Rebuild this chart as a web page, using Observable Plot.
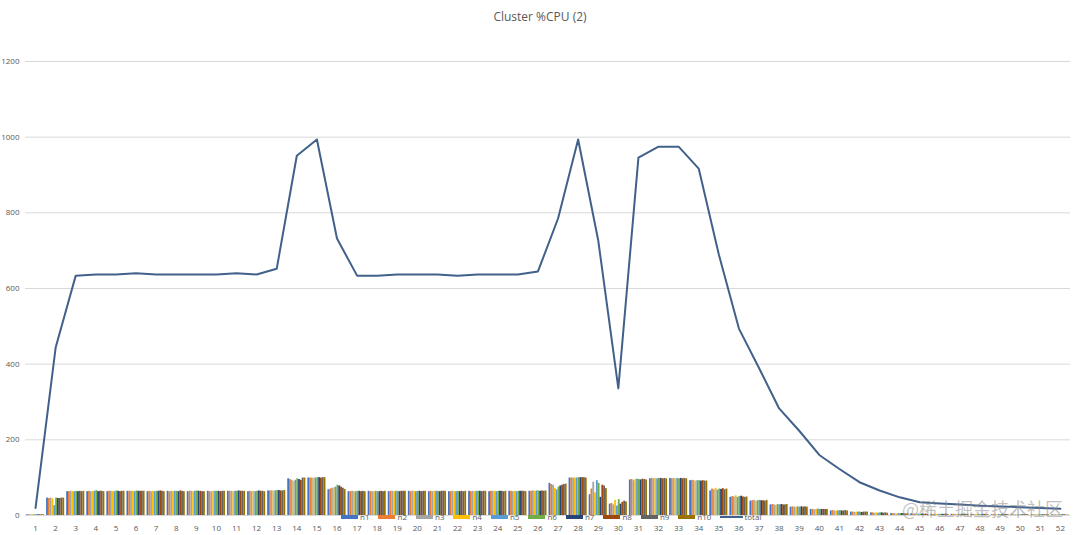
<!DOCTYPE html>
<html><head><meta charset="utf-8">
<script src="https://cdn.jsdelivr.net/npm/d3@7"></script>
<script src="https://cdn.jsdelivr.net/npm/@observablehq/plot@0.6"></script>
<style>
body{margin:0;background:#fff;font-family:"Open Sans",sans-serif;}
#wrap{position:relative;width:1080px;height:535px;overflow:hidden;}
#title{position:absolute;top:8px;left:0;width:1080px;text-align:center;font-size:12px;color:#595959;}
#legend{position:absolute;top:512px;left:341px;display:flex;align-items:center;font-size:8px;color:#595959;line-height:9px;background:transparent;}
#legend .item{display:flex;align-items:center;margin-right:9px;}
#legend .sw{width:17px;height:4px;margin-right:2px;}
#legend .ln{width:23px;height:2px;margin-right:1px;}
#wm{position:absolute;left:902px;top:495px;font-size:18px;color:rgba(140,140,140,0.55);font-family:"Noto Sans CJK SC",sans-serif;white-space:nowrap;}
svg{display:block;}
</style></head><body>
<div id="wrap"><div id="title">Cluster %CPU (2)</div></div>
<script>
const categories = [1,2,3,4,5,6,7,8,9,10,11,12,13,14,15,16,17,18,19,20,21,22,23,24,25,26,27,28,29,30,31,32,33,34,35,36,37,38,39,40,41,42,43,44,45,46,47,48,49,50,51,52];
const seriesNames = ["n1","n2","n3","n4","n5","n6","n7","n8","n9","n10"];
const seriesColors = ["#4472c4","#ed7d31","#a5a5a5","#ffc000","#5b9bd5","#70ad47","#264478","#9e480e","#636363","#997300"];
const totalColor = "#41618a";
const yTicks = [0,200,400,600,800,1000,1200];

const n1 = [2,46,63,63,63,64,63,64,63,64,64,63,65,97,99,68,63,64,63,64,63,63,64,63,64,64,85,99,55,30,94,97,98,92,65,48,38,28,22,16,12,9,7,5,4,3,3,3,2,2,2,2];
const n2 = [2,45,63,64,64,64,64,63,64,63,64,64,65,95,99,70,63,63,64,63,64,63,63,64,64,64,82,99,70,32,95,98,97,93,70,50,39,29,23,16,13,9,7,5,3,3,3,3,3,2,2,2];
const n3 = [2,46,64,63,64,64,63,64,64,63,64,63,65,93,99,72,64,63,64,64,63,64,64,64,63,65,80,99,88,28,92,97,98,92,68,49,40,28,22,15,12,8,6,5,4,3,3,2,2,2,2,2];
const n4 = [2,44,63,63,63,64,64,63,63,64,63,64,65,90,99,73,63,63,63,64,64,63,63,64,64,64,72,99,60,40,95,98,97,91,72,52,38,27,22,16,12,9,7,4,3,3,3,3,2,2,2,2];
const n5 = [2,26,63,64,63,63,63,64,64,64,64,63,65,93,99,75,63,64,64,63,64,63,64,63,63,65,68,99,92,25,96,97,98,92,67,48,39,29,23,17,12,9,6,5,4,3,3,3,3,2,2,2];
const n6 = [2,46,64,66,65,65,64,64,65,64,64,64,66,97,100,80,64,63,64,64,64,64,64,64,64,65,75,100,85,42,95,98,97,92,70,50,40,28,22,16,13,9,7,5,3,3,3,2,2,2,2,2];
const n7 = [2,45,63,63,64,64,64,63,64,64,65,65,66,95,100,78,64,63,63,64,63,63,64,64,64,64,78,100,48,30,94,98,98,91,69,51,39,29,23,16,12,8,7,5,4,3,3,3,3,2,2,2];
const n8 = [2,45,64,64,63,64,65,65,64,63,64,64,65,93,99,75,63,64,64,63,64,64,63,64,64,65,80,100,80,35,96,97,97,92,71,49,39,28,22,16,12,9,6,5,3,3,3,3,2,2,2,2];
const n9 = [2,46,63,64,64,64,64,64,63,64,64,64,65,99,100,72,64,63,64,64,64,63,64,63,64,64,82,100,78,38,95,98,98,91,68,48,38,28,23,16,13,9,7,4,4,4,3,2,3,2,2,1];
const n10 = [2,46,64,63,64,64,63,63,63,64,64,63,66,99,100,69,63,64,64,64,64,64,64,64,63,65,83,99,71,36,94,97,97,91,70,49,40,29,22,16,12,9,6,5,3,3,3,2,2,2,2,1];
const total = [20,444,634,637,637,640,637,637,637,637,640,637,652,951,994,732,634,634,637,637,637,634,637,637,637,645,785,994,727,336,946,975,975,917,690,494,390,283,224,160,123,88,66,48,35,32,29,26,24,22,20,18];

const seriesValues = [n1,n2,n3,n4,n5,n6,n7,n8,n9,n10];
const groupWidth = 0.9, barW = groupWidth / seriesNames.length;
const bars = [];
seriesValues.forEach((vals, i) => {
  vals.forEach((v, j) => {
    const c = categories[j];
    const x1 = c - groupWidth / 2 + i * barW;
    bars.push({cat: c, series: seriesNames[i], value: v, x1, x2: x1 + barW});
  });
});
const lineData = categories.map((c, j) => ({cat: c, value: total[j]}));

const chart = Plot.plot({
  width: 1080, height: 535,
  marginLeft: 25, marginRight: 10, marginTop: 61, marginBottom: 20,
  style: {fontSize: "8px", color: "#595959", fontFamily: "'Open Sans', sans-serif", background: "transparent"},
  x: {domain: [0.5, 52.5], axis: null},
  y: {domain: [0, 1200], axis: null},
  color: {domain: seriesNames, range: seriesColors},
  marks: [
    Plot.gridY(yTicks, {stroke: "#d9d9d9", strokeOpacity: 1, strokeWidth: 1}),
    Plot.axisY(yTicks, {tickSize: 0, tickPadding: 6, label: null, tickFormat: d => String(d)}),
    Plot.axisX(categories, {tickSize: 0, tickPadding: 10, label: null, tickFormat: d => String(d)}),
    Plot.rectY(bars, {x1: "x1", x2: "x2", y: "value", fill: "series"}),
    Plot.line(lineData, {x: "cat", y: "value", stroke: totalColor, strokeWidth: 2})
  ]
});
const wrap = document.getElementById("wrap");
wrap.appendChild(chart);

const legend = document.createElement("div");
legend.id = "legend";
seriesNames.forEach((n, i) => {
  const it = document.createElement("div"); it.className = "item";
  const sw = document.createElement("div"); sw.className = "sw"; sw.style.background = seriesColors[i];
  const lb = document.createElement("span"); lb.textContent = n;
  it.appendChild(sw); it.appendChild(lb); legend.appendChild(it);
});
{
  const it = document.createElement("div"); it.className = "item";
  const ln = document.createElement("div"); ln.className = "ln"; ln.style.background = totalColor;
  const lb = document.createElement("span"); lb.textContent = "total";
  it.appendChild(ln); it.appendChild(lb); legend.appendChild(it);
}
wrap.appendChild(legend);

const wm = document.createElement("div");
wm.id = "wm"; wm.textContent = "@稀土掘金技术社区";
wrap.appendChild(wm);
</script>
</body></html>
